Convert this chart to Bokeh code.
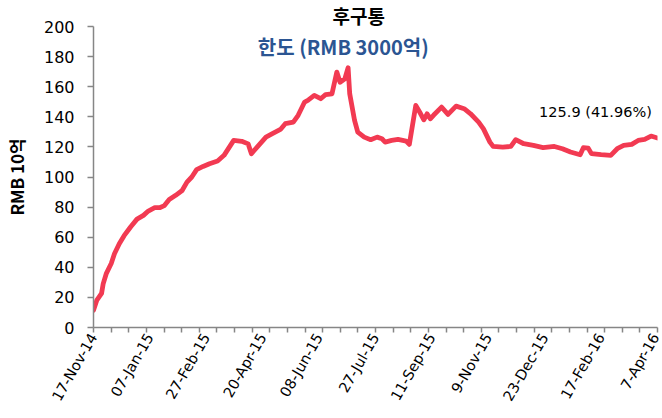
import numpy as np
from bokeh.plotting import figure
from bokeh.models import Range1d, FixedTicker, Label
from bokeh.embed import file_html
from bokeh.resources import INLINE

# ---- data (trading-day index, value in RMB bn) ----
day_index = [0, 2, 5, 6, 8, 11, 13, 16, 19, 23, 27, 31, 34, 38, 41, 44, 47, 51, 55, 58,
             61, 64, 68, 72, 77, 81, 87, 92, 96, 98, 104, 107, 111, 116, 119, 124, 127, 131, 133, 137,
             141, 144, 148, 151, 153, 156, 158, 159, 162, 164, 168, 172, 176, 179, 181, 185, 189, 194, 196, 200,
             203, 205, 207, 209, 211, 216, 220, 225, 230, 234, 239, 242, 246, 248, 254, 259, 262, 267, 273, 279,
             286, 291, 296, 302, 304, 307, 309, 315, 321, 325, 329, 334, 338, 342, 346, 350]
balance = [11.5, 18, 22.6, 29, 36, 42.5, 49, 55.7, 61, 66.8, 72, 74.5, 77.4, 79.6, 79.6, 81, 85, 87.8, 91, 96.6,
           100, 104.9, 107, 108.8, 110.6, 114.4, 124.3, 123.7, 122, 115.5, 122.8, 126.5, 128.8, 131.6, 135.4, 136.5, 141, 149.8, 150.9, 154.2,
           152, 154.7, 155.3, 169.7, 163, 165.3, 172.6, 155.3, 137.6, 129.8, 126.5, 124.8, 126.5, 125.4, 123.2, 124.3, 125, 123.9, 121.7, 147.6,
           142, 138, 142, 138.7, 141, 146.4, 141.6, 147.1, 145.4, 142, 136.5, 132, 123.2, 120.3, 119.9, 120.3, 124.8, 122.1, 121, 119.5,
           120.3, 118.8, 116.6, 114.8, 119.5, 119.2, 115.5, 114.8, 114.4, 118.8, 121, 121.7, 124.3, 125, 127.2, 125.9]

tick_labels = ["17-Nov-14", "07-Jan-15", "27-Feb-15", "20-Apr-15", "08-Jun-15", "27-Jul-15",
               "11-Sep-15", "9-Nov-15", "23-Dec-15", "17-Feb-16", "7-Apr-16"]
label_step = 35
last_day = 350

title_text = "후구통"
subtitle_text = "한도 (RMB 3000억)"
y_label = "RMB 10억"
note_text = "125.9 (41.96%)"

NUM_FONT = "DejaVu Sans"
KR_FONT = "Noto Sans CJK KR"
AXIS_GRAY = "#868686"

p = figure(frame_width=564, frame_height=301, output_backend="svg", toolbar_location=None,
           x_range=Range1d(0, last_day), y_range=Range1d(0, 200),
           min_border_left=93, min_border_right=5, min_border_top=26, min_border_bottom=91)
p.outline_line_color = None
p.xgrid.visible = False
p.ygrid.visible = False
p.background_fill_color = "white"
p.border_fill_color = "white"

# title
p.title.text = title_text
p.title.align = "left"
p.title.offset = 239
p.title.standoff = -5
p.title.text_font = KR_FONT
p.title.text_font_size = "19px"
p.title.text_font_style = "bold"
p.title.text_color = "black"

p.line(day_index, balance, line_color="#F23A52", line_width=4.8, line_join="round", line_cap="round")

# x axis
label_pos = [i * label_step for i in range(len(tick_labels))]
minor_pos = list(np.linspace(0, last_day, 33))
p.xaxis.ticker = FixedTicker(ticks=label_pos, minor_ticks=minor_pos)
p.xaxis.major_label_overrides = {pos: lab for pos, lab in zip(label_pos, tick_labels)}
p.xaxis.major_label_orientation = np.pi / 3
p.xaxis.major_tick_out = 0
p.xaxis.major_tick_in = 0
p.xaxis.minor_tick_out = 5
p.xaxis.minor_tick_in = 0
p.xaxis.minor_tick_line_color = AXIS_GRAY
p.xaxis.minor_tick_line_width = 1.5
p.xaxis.axis_line_color = AXIS_GRAY
p.xaxis.axis_line_width = 1.5
p.xaxis.major_label_text_font = NUM_FONT
p.xaxis.major_label_text_font_size = "14.5px"
p.xaxis.major_label_text_color = "black"
p.xaxis.major_label_standoff = 2

# y axis
p.yaxis.ticker = FixedTicker(ticks=list(range(0, 201, 20)), minor_ticks=[])
p.yaxis.major_tick_out = 6
p.yaxis.major_tick_in = 0
p.yaxis.major_tick_line_color = AXIS_GRAY
p.yaxis.major_tick_line_width = 1.5
p.yaxis.axis_line_color = AXIS_GRAY
p.yaxis.axis_line_width = 1.5
p.yaxis.major_label_text_font = NUM_FONT
p.yaxis.major_label_text_font_size = "16px"
p.yaxis.major_label_text_color = "black"
p.yaxis.major_label_standoff = 13
p.yaxis.axis_label = y_label
p.yaxis.axis_label_text_font = KR_FONT
p.yaxis.axis_label_text_font_size = "17px"
p.yaxis.axis_label_text_font_style = "bold"
p.yaxis.axis_label_text_color = "black"
p.yaxis.axis_label_standoff = 12

# subtitle and annotation
p.add_layout(Label(x=155, y=186.7, text=subtitle_text, text_font=KR_FONT, text_font_size="20px",
                   text_font_style="bold", text_color="#2B5592", text_align="center", text_baseline="middle"))
p.add_layout(Label(x=311.5, y=142.9, text=note_text, text_font=NUM_FONT, text_font_size="14.5px",
                   text_color="black", text_align="center", text_baseline="middle"))

open("out.html", "w").write(file_html(p, INLINE))
